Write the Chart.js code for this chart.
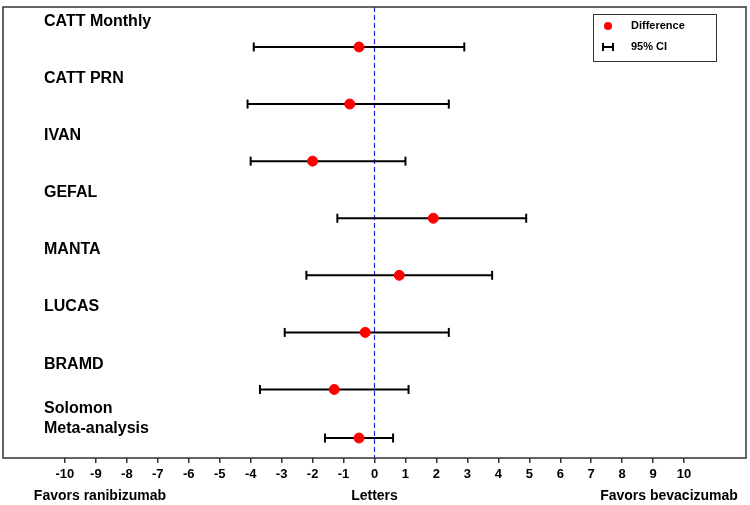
<!DOCTYPE html>
<html>
<head>
<meta charset="utf-8">
<script src="https://cdn.jsdelivr.net/npm/chart.js@4"></script>
<style>
  html, body { margin: 0; padding: 0; background: #fff; }
  #wrap { width: 750px; height: 505px; }
</style>
</head>
<body>
<div id="wrap"><canvas id="forest"></canvas></div>
<script>
const studies = ['CATT Monthly', 'CATT PRN', 'IVAN', 'GEFAL', 'MANTA', 'LUCAS', 'BRAMD', 'Solomon\nMeta-analysis'];
const difference = [-0.5, -0.8, -2.0, 1.9, 0.8, -0.3, -1.3, -0.5];
const ciLow = [-3.9, -4.1, -4.0, -1.2, -2.2, -2.9, -3.7, -1.6];
const ciHigh = [2.9, 2.4, 1.0, 4.9, 3.8, 2.4, 1.1, 0.6];
const rowPos = [0.7, 1.7, 2.7, 3.7, 4.7, 5.7, 6.7, 7.55];
const labelPos = [0.25, 1.25, 2.25, 3.25, 4.25, 5.25, 6.27, 7.04];
const tickValues = [-10, -9, -8, -7, -6, -5, -4, -3, -2, -1, 0, 1, 2, 3, 4, 5, 6, 7, 8, 9, 10];

const FONT = '"Liberation Sans", Arial, sans-serif';

const datasets = [];
studies.forEach((s, i) => {
    datasets.push({
        type: 'line',
        data: [{ x: ciLow[i], y: rowPos[i] }, { x: ciHigh[i], y: rowPos[i] }],
        borderColor: '#000',
        borderWidth: 2,
        pointStyle: 'line',
        rotation: 90,
        pointRadius: 4.5,
        pointBorderWidth: 2,
        pointBorderColor: '#000',
        order: 2
    });
});
datasets.push({
    type: 'scatter',
    data: difference.map((d, i) => ({ x: d, y: rowPos[i] })),
    backgroundColor: '#ff0000',
    borderColor: '#ff0000',
    pointRadius: 5,
    order: 1
});
datasets.push({
    type: 'line',
    data: [{ x: 0, y: 0 }, { x: 0, y: 7.9 }],
    borderColor: '#2222ee',
    borderWidth: 1.2,
    borderDash: [5, 3],
    pointRadius: 0,
    order: 3
});

const decor = {
    id: 'decor',
    afterDraw(chart) {
        const ctx = chart.ctx;
        const a = chart.chartArea;
        const xs = chart.scales.x, ys = chart.scales.y;
        ctx.save();
        // frame
        ctx.strokeStyle = '#333';
        ctx.lineWidth = 1.5;
        ctx.strokeRect(a.left, a.top, a.right - a.left, a.bottom - a.top);
        // study labels
        ctx.fillStyle = '#000';
        ctx.font = 'bold 16px ' + FONT;
        ctx.textBaseline = 'middle';
        ctx.textAlign = 'left';
        studies.forEach((s, i) => {
            const lines = s.split('\n');
            lines.forEach((ln, j) => {
                ctx.fillText(ln, 44, ys.getPixelForValue(labelPos[i]) + j * 20);
            });
        });
        // bottom labels
        ctx.font = 'bold 14px ' + FONT;
        ctx.textAlign = 'center';
        ctx.fillText('Favors ranibizumab', 100, 496);
        ctx.fillText('Letters', xs.getPixelForValue(0), 496);
        ctx.fillText('Favors bevacizumab', 669, 496);
        // legend
        const lx = 593, ly = 14;
        ctx.lineWidth = 1;
        ctx.strokeStyle = '#333';
        ctx.strokeRect(lx + 0.5, ly + 0.5, 123, 47);
        ctx.fillStyle = '#ff0000';
        ctx.beginPath();
        ctx.arc(lx + 15, ly + 12, 4, 0, Math.PI * 2);
        ctx.fill();
        ctx.strokeStyle = '#000';
        ctx.lineWidth = 2;
        ctx.beginPath();
        ctx.moveTo(lx + 10, ly + 33); ctx.lineTo(lx + 20, ly + 33);
        ctx.moveTo(lx + 10, ly + 29); ctx.lineTo(lx + 10, ly + 37);
        ctx.moveTo(lx + 20, ly + 29); ctx.lineTo(lx + 20, ly + 37);
        ctx.stroke();
        ctx.fillStyle = '#000';
        ctx.font = 'bold 11px ' + FONT;
        ctx.textAlign = 'left';
        ctx.fillText('Difference', lx + 38, ly + 12);
        ctx.fillText('95% CI', lx + 38, ly + 33);
        ctx.restore();
    }
};

new Chart(document.getElementById('forest'), {
    data: { datasets },
    options: {
        responsive: true,
        maintainAspectRatio: false,
        animation: false,
        layout: { autoPadding: false, padding: { left: 3, right: 4, top: 7, bottom: 0 } },
        plugins: { legend: { display: false }, tooltip: { enabled: false } },
        scales: {
            x: {
                type: 'linear',
                min: -12,
                max: 12,
                afterBuildTicks: (scale) => { scale.ticks = tickValues.map(v => ({ value: v })); },
                afterFit: (scale) => { scale.height = 47; },
                grid: { drawOnChartArea: false, drawTicks: true, tickLength: 5, color: '#333', lineWidth: 1.5 },
                border: { display: false },
                ticks: { color: '#000', font: { family: FONT, size: 13, weight: 'bold' }, padding: 4, maxRotation: 0, autoSkip: false }
            },
            y: {
                type: 'linear',
                display: false,
                reverse: true,
                min: 0,
                max: 7.9
            }
        }
    },
    plugins: [decor]
});
</script>
</body>
</html>
